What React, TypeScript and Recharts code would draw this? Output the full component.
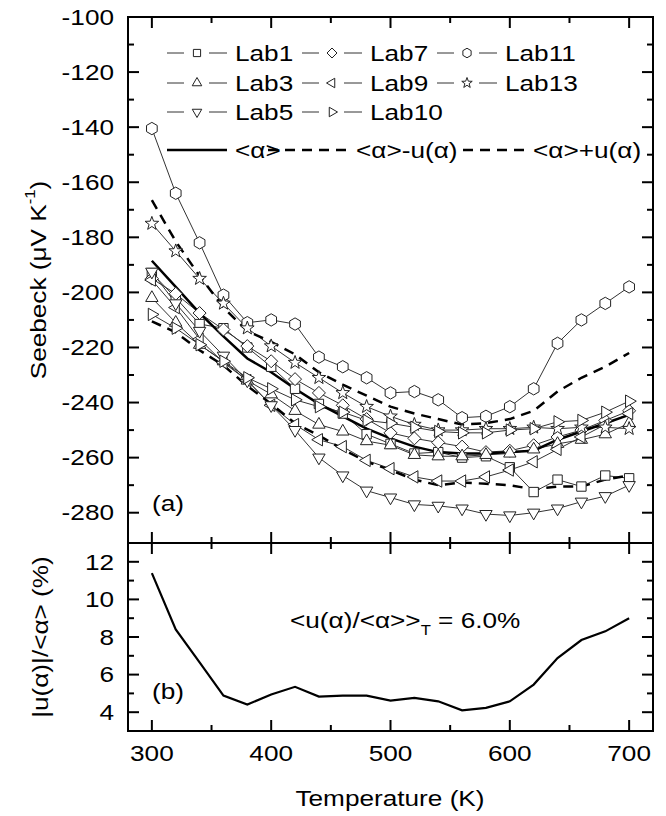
import React from 'react'
import { LineChart, Line, XAxis, YAxis, ReferenceLine } from 'recharts'

// temperatures (K)
const temps = [300, 320, 340, 360, 380, 400, 420, 440, 460, 480, 500, 520, 540, 560, 580, 600, 620, 640, 660, 680, 700]

// Seebeck coefficient (uV/K) per lab
const lab1 = [-193, -202, -211.5, -213, -220, -227, -235, -240.5, -244, -251.5, -255, -258.5, -258, -260, -259.5, -263.5, -272.5, -268, -270.5, -266.5, -267.5]
const lab3 = [-202, -211, -219, -225, -232, -237, -243, -248, -250.5, -254, -255.5, -259, -259.5, -259.5, -259, -258.5, -257, -255, -253.5, -251.5, -247.5]
const lab5 = [-192.5, -204, -214, -223, -232, -241, -250, -260, -266.5, -272, -274.5, -277, -277.5, -278.5, -280.5, -281, -280, -278.5, -276, -274, -270]
const lab7 = [-195, -200.5, -207.5, -213.5, -219.5, -225, -231.5, -236.5, -241, -246, -251, -253, -254.5, -256, -258, -257.5, -255.5, -252.5, -250, -246.5, -243]
const lab9 = [-195.5, -205.5, -217, -225.5, -232, -241, -248, -253.5, -256, -261, -264, -267, -268.5, -268.5, -267, -264.5, -261.5, -257, -252.5, -248, -244]
const lab10 = [-208, -213, -219, -225, -231, -235, -239, -241.5, -243.5, -246.5, -247.5, -249, -250.5, -251, -251, -250, -249.5, -247, -246.5, -243.5, -239.5]
const lab11 = [-140.5, -164, -182, -201, -211, -210, -211.5, -223.5, -227, -231, -236.5, -236, -239, -245.5, -245, -241.5, -235, -218.5, -210, -204, -198]
const lab13 = [-175, -185, -195, -204, -213, -219.5, -225.5, -231, -236.5, -241.5, -245, -248, -250, -250, -249.5, -249.5, -249, -249.5, -249, -249, -249.5]

// mean and mean -/+ uncertainty
const meanAlpha = [-188.5, -198, -207.5, -216, -224, -229, -235, -240.5, -245, -249.5, -253, -256, -258, -258.5, -258.5, -258, -257.5, -253.5, -250.5, -247.5, -244.5]
const meanMinusU = [-210.5, -214.5, -221, -226.5, -234, -240.5, -247.5, -252, -257, -261.5, -264.5, -268, -270, -269, -269.5, -270, -271.5, -270.5, -270.5, -268, -266.5]
const meanPlusU = [-166.5, -181.5, -194, -205.5, -214, -218, -222.5, -229, -233.5, -237.5, -241.5, -244, -246, -248, -247.5, -246, -243, -236, -231, -227, -222]

// relative uncertainty (%)
const relU = [11.4, 8.4, 6.65, 4.88, 4.41, 4.94, 5.35, 4.83, 4.88, 4.88, 4.62, 4.76, 4.58, 4.1, 4.23, 4.58, 5.47, 6.88, 7.84, 8.3, 9.0]

const xTicks = [300, 350, 400, 450, 500, 550, 600, 650, 700]
const topYTicks = [-100, -110, -120, -130, -140, -150, -160, -170, -180, -190, -200, -210, -220, -230, -240, -250, -260, -270, -280]
const botYTicks = [4, 5, 6, 7, 8, 9, 10, 11, 12]

const X_DOMAIN: [number, number] = [280, 720]
const TOP_DOMAIN: [number, number] = [-291, -100]
const BOT_DOMAIN: [number, number] = [3, 13]

type Shape = 'square' | 'diamond' | 'hexagon' | 'up' | 'left' | 'down' | 'right' | 'star'

const labs: { key: string; name: string; shape: Shape; values: number[] }[] = [
  { key: 'lab1', name: 'Lab1', shape: 'square', values: lab1 },
  { key: 'lab7', name: 'Lab7', shape: 'diamond', values: lab7 },
  { key: 'lab11', name: 'Lab11', shape: 'hexagon', values: lab11 },
  { key: 'lab3', name: 'Lab3', shape: 'up', values: lab3 },
  { key: 'lab9', name: 'Lab9', shape: 'left', values: lab9 },
  { key: 'lab13', name: 'Lab13', shape: 'star', values: lab13 },
  { key: 'lab5', name: 'Lab5', shape: 'down', values: lab5 },
  { key: 'lab10', name: 'Lab10', shape: 'right', values: lab10 },
]

const topData = temps.map((t, i) => {
  const row: Record<string, number> = { T: t, mean: meanAlpha[i], lo: meanMinusU[i], hi: meanPlusU[i] }
  labs.forEach(l => { row[l.key] = l.values[i] })
  return row
})
const botData = temps.map((t, i) => ({ T: t, rel: relU[i] }))

const FONT = '"Liberation Sans", Arial, sans-serif'
const FS = 22
const SX = 1.19 // glyphs in the figure are a bit wide
const DASH = '10 7'

// plot box size in px, used to turn tick lengths into data units
const PLOT_W = 525
const TOP_H = 526
const BOT_H = 188

function polar(cx: number, cy: number, r: number, deg: number) {
  const a = (deg * Math.PI) / 180
  return `${(cx + r * Math.cos(a)).toFixed(2)},${(cy + r * Math.sin(a)).toFixed(2)}`
}

function markerPoints(shape: Shape, cx: number, cy: number, s: number) {
  switch (shape) {
    case 'square': {
      const h = s * 0.72
      return `${cx - h},${cy - h} ${cx + h},${cy - h} ${cx + h},${cy + h} ${cx - h},${cy + h}`
    }
    case 'diamond':
      return [0, 90, 180, 270].map(d => polar(cx, cy, s, d - 90)).join(' ')
    case 'hexagon':
      return [0, 60, 120, 180, 240, 300].map(d => polar(cx, cy, s * 0.95, d - 90)).join(' ')
    case 'up':
      return [-90, 30, 150].map(d => polar(cx, cy, s * 1.1, d)).join(' ')
    case 'down':
      return [90, 210, 330].map(d => polar(cx, cy, s * 1.1, d)).join(' ')
    case 'left':
      return [180, 300, 60].map(d => polar(cx, cy, s * 1.1, d)).join(' ')
    case 'right':
      return [0, 120, 240].map(d => polar(cx, cy, s * 1.1, d)).join(' ')
    case 'star': {
      const pts: string[] = []
      for (let k = 0; k < 10; k++) pts.push(polar(cx, cy, k % 2 === 0 ? s * 1.1 : s * 0.45, -90 + k * 36))
      return pts.join(' ')
    }
  }
}

const Marker = ({ shape, cx, cy, s }: { shape: Shape; cx: number; cy: number; s: number }) => (
  <polygon points={markerPoints(shape, cx, cy, s)} fill="#fff" stroke="#222" strokeWidth={1} />
)

// stretched text, anchored at (x, y)
const Txt = ({ x, y, anchor = 'start', rotate = 0, children }: { x: number; y: number; anchor?: string; rotate?: number; children: React.ReactNode }) => (
  <text transform={`translate(${x},${y}) rotate(${rotate}) scale(${SX},1)`} textAnchor={anchor as any} dominantBaseline="central"
    fontFamily={FONT} fontSize={FS} fill="#000">
    {children}
  </text>
)

const isMajor = (v: number, step: number) => Math.abs(v / step - Math.round(v / step)) < 1e-6

// tick labels only; the tick marks themselves are reference segments
function labelTick(side: 'left' | 'bottom', majorStep: number) {
  return (p: any) => {
    const v = p.payload.value as number
    if (!isMajor(v, majorStep)) return <g key={`${side}-${v}`} />
    return (
      <g key={`${side}-${v}`}>
        {side === 'left'
          ? <Txt x={p.x - 14} y={p.y} anchor="end">{v}</Txt>
          : <Txt x={p.x} y={p.y + 22} anchor="middle">{v}</Txt>}
      </g>
    )
  }
}

// frame plus inward ticks on all four sides, drawn through the axis scales
function frame(yDomain: [number, number], yTicks: number[], yMajor: number, plotH: number) {
  const xu = (X_DOMAIN[1] - X_DOMAIN[0]) / PLOT_W
  const yu = (yDomain[1] - yDomain[0]) / plotH
  const [x0, x1] = X_DOMAIN
  const [y0, y1] = yDomain
  const st = { stroke: '#000', strokeWidth: 2, ifOverflow: 'visible' as const }
  const out: React.ReactNode[] = []
  xTicks.forEach(t => {
    const len = (isMajor(t, 100) ? 11 : 6) * yu
    out.push(<ReferenceLine key={`xb${t}`} segment={[{ x: t, y: y0 }, { x: t, y: y0 + len }]} {...st} />)
    out.push(<ReferenceLine key={`xt${t}`} segment={[{ x: t, y: y1 }, { x: t, y: y1 - len }]} {...st} />)
  })
  yTicks.forEach(v => {
    const len = (isMajor(v, yMajor) ? 11 : 6) * xu
    out.push(<ReferenceLine key={`yl${v}`} segment={[{ x: x0, y: v }, { x: x0 + len, y: v }]} {...st} />)
    out.push(<ReferenceLine key={`yr${v}`} segment={[{ x: x1, y: v }, { x: x1 - len, y: v }]} {...st} />)
  })
  out.push(<ReferenceLine key="fl" segment={[{ x: x0, y: y0 }, { x: x0, y: y1 }]} {...st} strokeLinecap="square" />)
  out.push(<ReferenceLine key="fr" segment={[{ x: x1, y: y0 }, { x: x1, y: y1 }]} {...st} strokeLinecap="square" />)
  out.push(<ReferenceLine key="fb" segment={[{ x: x0, y: y0 }, { x: x1, y: y0 }]} {...st} strokeLinecap="square" />)
  out.push(<ReferenceLine key="ft" segment={[{ x: x0, y: y1 }, { x: x1, y: y1 }]} {...st} strokeLinecap="square" />)
  return out
}

const LegendItem = ({ x, y, shape, name }: { x: number; y: number; shape: Shape; name: string }) => (
  <g>
    <line x1={x} y1={y} x2={x + 17} y2={y} stroke="#333" strokeWidth={1} />
    <Marker shape={shape} cx={x + 30} cy={y} s={5} />
    <line x1={x + 42} y1={y} x2={x + 60} y2={y} stroke="#333" strokeWidth={1} />
    <Txt x={x + 68} y={y}>{name}</Txt>
  </g>
)

export default function App() {
  const cols = [167, 302, 437]
  const rows = [53, 83, 112]
  const a = '\u03B1'
  return (
    <div style={{ position: 'relative', width: 666, height: 816, margin: '-8px 0 0 -8px' }}>
      <div style={{ position: 'absolute', left: 0, top: 0 }}>
        <LineChart width={666} height={543} data={topData} margin={{ top: 17, right: 13, bottom: 0, left: 0 }}>
          <XAxis dataKey="T" type="number" domain={X_DOMAIN} ticks={xTicks} height={0} axisLine={false} tickLine={false} tick={false} />
          <YAxis type="number" domain={TOP_DOMAIN} ticks={topYTicks} interval={0} width={128} allowDataOverflow
            axisLine={false} tickLine={false} tickSize={0} tickMargin={0} tick={labelTick('left', 20)} />
          {frame(TOP_DOMAIN, topYTicks, 20, TOP_H)}
          {labs.map(l => (
            <Line key={l.key} dataKey={l.key} type="linear" stroke="#333" strokeWidth={1} isAnimationActive={false}
              dot={(d: any) => <Marker key={`${l.key}-${d.index}`} shape={l.shape} cx={d.cx} cy={d.cy} s={6.5} />} activeDot={false} />
          ))}
          <Line dataKey="lo" type="linear" stroke="#000" strokeWidth={2.5} strokeDasharray={DASH} dot={false} activeDot={false} isAnimationActive={false} />
          <Line dataKey="hi" type="linear" stroke="#000" strokeWidth={2.5} strokeDasharray={DASH} dot={false} activeDot={false} isAnimationActive={false} />
          <Line dataKey="mean" type="linear" stroke="#000" strokeWidth={2.5} dot={false} activeDot={false} isAnimationActive={false} />
        </LineChart>
      </div>
      <div style={{ position: 'absolute', left: 0, top: 543 }}>
        <LineChart width={666} height={273} data={botData} margin={{ top: 0, right: 13, bottom: 0, left: 0 }}>
          <XAxis dataKey="T" type="number" domain={X_DOMAIN} ticks={xTicks} interval={0} height={85}
            axisLine={false} tickLine={false} tickSize={0} tickMargin={0} tick={labelTick('bottom', 100)} />
          <YAxis type="number" domain={BOT_DOMAIN} ticks={botYTicks} interval={0} width={128} allowDataOverflow
            axisLine={false} tickLine={false} tickSize={0} tickMargin={0} tick={labelTick('left', 2)} />
          {frame(BOT_DOMAIN, botYTicks, 2, BOT_H)}
          <Line dataKey="rel" type="linear" stroke="#000" strokeWidth={2.2} dot={false} activeDot={false} isAnimationActive={false} />
        </LineChart>
      </div>
      <svg width={666} height={816} style={{ position: 'absolute', left: 0, top: 0, pointerEvents: 'none' }}>
        {labs.map((l, i) => (
          <LegendItem key={l.key} x={cols[i % 3]} y={rows[Math.floor(i / 3)]} shape={l.shape} name={l.name} />
        ))}
        <line x1={167} y1={150} x2={227} y2={150} stroke="#000" strokeWidth={2.5} />
        <Txt x={235} y={150}>{`<${a}>`}</Txt>
        <line x1={268} y1={150} x2={353} y2={150} stroke="#000" strokeWidth={2.5} strokeDasharray={DASH} />
        <Txt x={356} y={150}>{`<${a}>-u(${a})`}</Txt>
        <line x1={463} y1={150} x2={530} y2={150} stroke="#000" strokeWidth={2.5} strokeDasharray={DASH} />
        <Txt x={533} y={150}>{`<${a}>+u(${a})`}</Txt>

        <Txt x={168} y={503} anchor="middle">(a)</Txt>
        <Txt x={168} y={691} anchor="middle">(b)</Txt>
        <Txt x={290} y={620}>
          {`<u(${a})/<${a}>>`}
          <tspan fontSize={14} dy={10}>T</tspan>
          <tspan dy={-10}>{' = 6.0%'}</tspan>
        </Txt>

        <Txt x={38} y={280} anchor="middle" rotate={-90}>
          {'Seebeck (\u03BCV K'}
          <tspan fontSize={14} dy={-8}>-1</tspan>
          <tspan dy={8}>)</tspan>
        </Txt>
        <Txt x={40} y={637} anchor="middle" rotate={-90}>{`|u(${a})|/<${a}> (%)`}</Txt>
        <Txt x={390} y={798} anchor="middle">Temperature (K)</Txt>
      </svg>
    </div>
  )
}
